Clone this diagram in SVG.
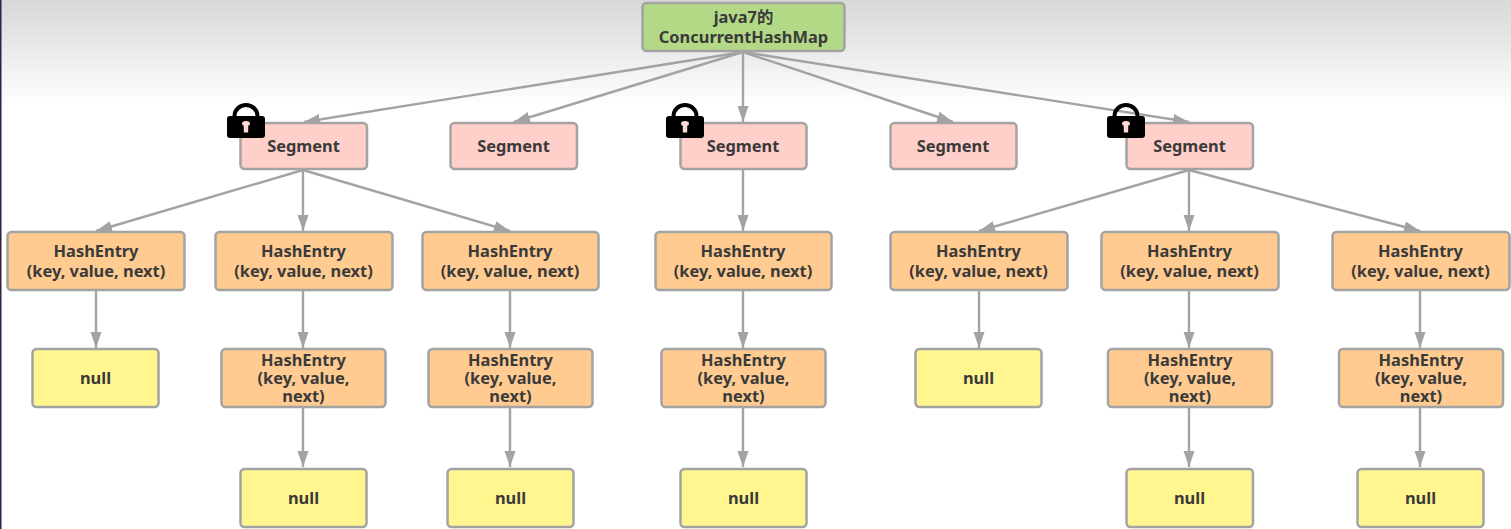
<svg xmlns="http://www.w3.org/2000/svg" width="1511" height="529" viewBox="0 0 1511 529">
<style>
.n{stroke:#a3a3a3;stroke-width:2.5}
.root{fill:#b3d987}.seg{fill:#ffcfc9}.he{fill:#ffcb91}.nul{fill:#fff68f}
text{font-family:"Noto Sans","Noto Sans CJK SC","Liberation Sans",sans-serif;font-size:16.4px;font-weight:700;fill:#3a3a3a;text-anchor:middle}
#connectors line{stroke:#a3a3a3;stroke-width:2.4;marker-end:url(#arrow)}
</style>
<defs>
<linearGradient id="bg" x1="0" y1="0" x2="0" y2="1"><stop offset="0" stop-color="#d8d8d8"/><stop offset="1" stop-color="#ffffff"/></linearGradient>
<marker id="arrow" markerUnits="userSpaceOnUse" markerWidth="18" markerHeight="14" refX="16" refY="6" orient="auto"><path d="M0 0.500L16 6L0 11.500Z" fill="#a3a3a3"/></marker>
<g id="lock"><path d="M-11.500 -5V-7A11.500 11 0 0 1 11.500 -7V-5" fill="none" stroke="#000" stroke-width="4"/><rect x="-19" y="-7" width="38" height="22" rx="3" fill="#000"/><ellipse cx="0" cy="0.500" rx="4" ry="2.500" fill="#ffd9d4"/><rect x="-2.200" y="0" width="4.400" height="9.500" fill="#ffd9d4"/></g>
</defs>
<rect width="1511" height="529" fill="#fff"/>
<rect width="1511" height="106" fill="url(#bg)"/>
<rect width="1.500" height="529" fill="#2a2545"/>
<g id="connectors">
<line x1="743" y1="52" x2="304" y2="122"/><line x1="743" y1="52" x2="514" y2="122"/><line x1="743" y1="52" x2="743" y2="122"/><line x1="743" y1="52" x2="953" y2="122"/><line x1="743" y1="52" x2="1189" y2="122"/>
<line x1="303" y1="170" x2="96" y2="231"/><line x1="303" y1="170" x2="303" y2="231"/><line x1="303" y1="170" x2="510" y2="231"/>
<line x1="743" y1="170" x2="743" y2="231"/>
<line x1="1189" y1="170" x2="979" y2="231"/><line x1="1189" y1="170" x2="1189" y2="231"/><line x1="1189" y1="170" x2="1420" y2="231"/>
<line x1="96" y1="291" x2="96" y2="348"/><line x1="303" y1="291" x2="303" y2="348"/><line x1="510" y1="291" x2="510" y2="348"/><line x1="743" y1="291" x2="743" y2="348"/><line x1="979" y1="291" x2="979" y2="348"/><line x1="1189" y1="291" x2="1189" y2="348"/><line x1="1420" y1="291" x2="1420" y2="348"/>
<line x1="303" y1="408" x2="303" y2="467"/><line x1="510" y1="408" x2="510" y2="467"/><line x1="743" y1="408" x2="743" y2="467"/><line x1="1189" y1="408" x2="1189" y2="467"/><line x1="1420" y1="408" x2="1420" y2="467"/>
</g>
<g id="root"><rect class="n root" x="642.500" y="3" width="202" height="48" rx="4"/><text x="743.500" y="23">java7的</text><text x="743.500" y="43">ConcurrentHashMap</text></g>
<g id="seg1"><rect class="n seg" x="240.500" y="123" width="126.500" height="46" rx="4"/><text x="303.500" y="152">Segment</text></g>
<g id="seg2"><rect class="n seg" x="450.500" y="123" width="126.500" height="46" rx="4"/><text x="513.500" y="152">Segment</text></g>
<g id="seg3"><rect class="n seg" x="680.500" y="123" width="126" height="46" rx="4"/><text x="743" y="152">Segment</text></g>
<g id="seg4"><rect class="n seg" x="890.500" y="123" width="126" height="46" rx="4"/><text x="953" y="152">Segment</text></g>
<g id="seg5"><rect class="n seg" x="1126.500" y="123" width="126.500" height="46" rx="4"/><text x="1189.500" y="152">Segment</text></g>
<g id="lock1"><use href="#lock" x="246" y="123"/></g>
<g id="lock2"><use href="#lock" x="685" y="123"/></g>
<g id="lock3"><use href="#lock" x="1126" y="123"/></g>
<g id="he1"><rect class="n he" x="7.500" y="232" width="177" height="58" rx="4"/><text x="96" y="257">HashEntry</text><text x="96" y="277">(key, value, next)</text></g>
<g id="he2"><rect class="n he" x="215.500" y="232" width="177" height="58" rx="4"/><text x="303.500" y="257">HashEntry</text><text x="303.500" y="277">(key, value, next)</text></g>
<g id="he3"><rect class="n he" x="422.500" y="232" width="176" height="58" rx="4"/><text x="510" y="257">HashEntry</text><text x="510" y="277">(key, value, next)</text></g>
<g id="he4"><rect class="n he" x="655.500" y="232" width="176" height="58" rx="4"/><text x="743" y="257">HashEntry</text><text x="743" y="277">(key, value, next)</text></g>
<g id="he5"><rect class="n he" x="890.500" y="232" width="177" height="58" rx="4"/><text x="978.500" y="257">HashEntry</text><text x="978.500" y="277">(key, value, next)</text></g>
<g id="he6"><rect class="n he" x="1101.500" y="232" width="177" height="58" rx="4"/><text x="1189.500" y="257">HashEntry</text><text x="1189.500" y="277">(key, value, next)</text></g>
<g id="he7"><rect class="n he" x="1332.500" y="232" width="177" height="58" rx="4"/><text x="1420.500" y="257">HashEntry</text><text x="1420.500" y="277">(key, value, next)</text></g>
<g id="null1"><rect class="n nul" x="32.500" y="349" width="126" height="58" rx="4"/><text x="95.500" y="384">null</text></g>
<g id="he8"><rect class="n he" x="221.500" y="349" width="164" height="58" rx="4"/><text x="303.500" y="366">HashEntry</text><text x="303.500" y="384">(key, value,</text><text x="303.500" y="402">next)</text></g>
<g id="he9"><rect class="n he" x="428.500" y="349" width="164" height="58" rx="4"/><text x="510.500" y="366">HashEntry</text><text x="510.500" y="384">(key, value,</text><text x="510.500" y="402">next)</text></g>
<g id="he10"><rect class="n he" x="661.500" y="349" width="164" height="58" rx="4"/><text x="743.500" y="366">HashEntry</text><text x="743.500" y="384">(key, value,</text><text x="743.500" y="402">next)</text></g>
<g id="null2"><rect class="n nul" x="915.500" y="349" width="126" height="58" rx="4"/><text x="978.500" y="384">null</text></g>
<g id="he11"><rect class="n he" x="1108" y="349" width="164" height="58" rx="4"/><text x="1190" y="366">HashEntry</text><text x="1190" y="384">(key, value,</text><text x="1190" y="402">next)</text></g>
<g id="he12"><rect class="n he" x="1339" y="349" width="164" height="58" rx="4"/><text x="1421" y="366">HashEntry</text><text x="1421" y="384">(key, value,</text><text x="1421" y="402">next)</text></g>
<g id="null3"><rect class="n nul" x="240.500" y="469" width="126" height="58" rx="4"/><text x="303.500" y="504">null</text></g>
<g id="null4"><rect class="n nul" x="447.500" y="469" width="126" height="58" rx="4"/><text x="510.500" y="504">null</text></g>
<g id="null5"><rect class="n nul" x="680.500" y="469" width="126" height="58" rx="4"/><text x="743.500" y="504">null</text></g>
<g id="null6"><rect class="n nul" x="1126.500" y="469" width="126.500" height="58" rx="4"/><text x="1189.500" y="504">null</text></g>
<g id="null7"><rect class="n nul" x="1357.500" y="469" width="126" height="58" rx="4"/><text x="1420.500" y="504">null</text></g>
</svg>
